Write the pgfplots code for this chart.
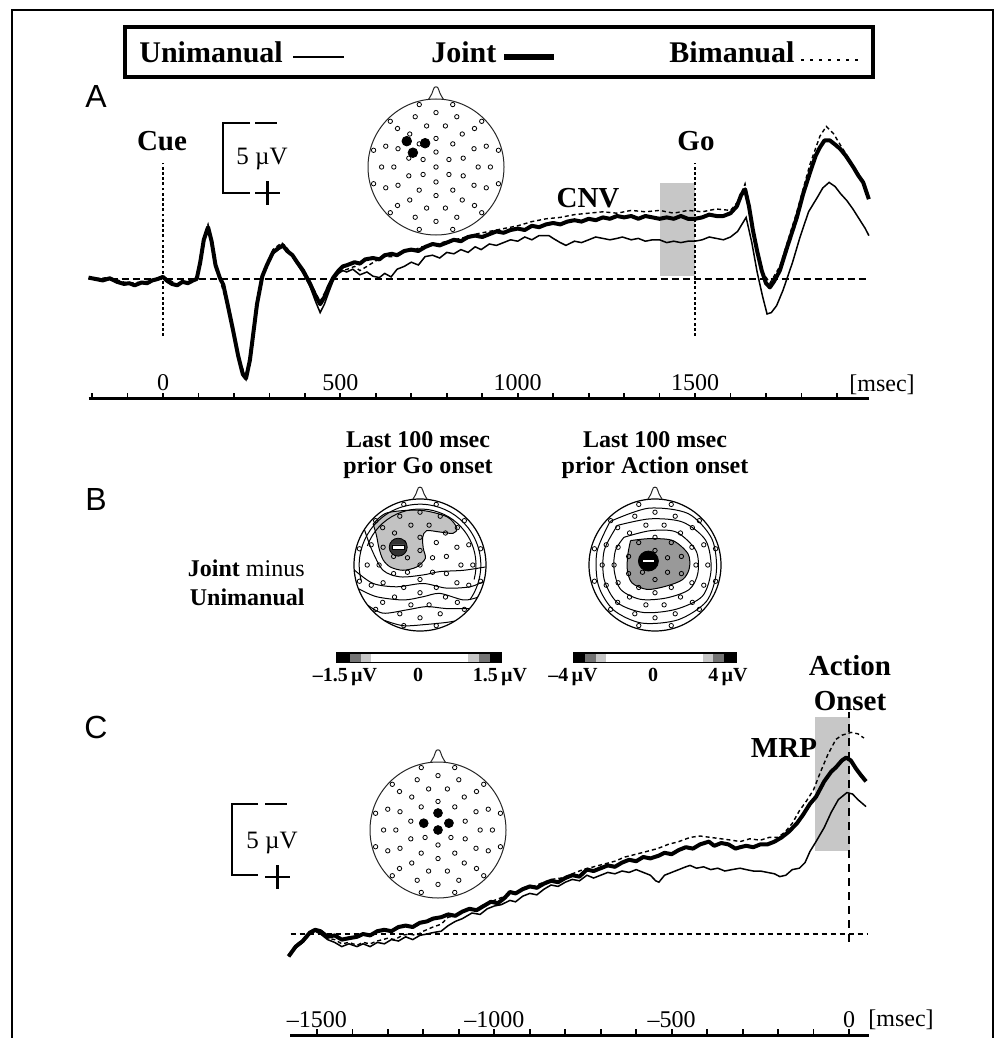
\documentclass[border=0pt]{standalone}
\usepackage{fontspec}
\setmainfont{Liberation Serif}
\newfontfamily\sansf{Liberation Sans}
\usepackage{pgfplots}
\usepackage{pgfplotstable}
\pgfplotsset{compat=1.18}

\newcommand{\labf}{\fontsize{14.5}{16}\selectfont\bfseries}
\newcommand{\legf}{\fontsize{15}{17}\selectfont\bfseries}
\newcommand{\ttlf}{\fontsize{12}{14}\selectfont\bfseries}
\newcommand{\regf}{\fontsize{12}{14}\selectfont}
\newcommand{\cbf}{\fontsize{10}{12}\selectfont\bfseries}
\newcommand{\panf}{\sansf\fontsize{16}{18}\selectfont}

% ---------------- Panel A (ms, upward deflection in microvolt; negativity up)
\pgfplotstableread{
t v
-210 0.10
-190 0.00
-170 -0.10
-150 0.05
-130 -0.20
-110 -0.35
-95 -0.30
-80 -0.45
-60 -0.25
-45 -0.30
-30 -0.10
-15 0.00
0 0.15
10 -0.10
25 -0.35
40 -0.45
55 -0.20
70 -0.30
85 -0.10
95 0.00
105 1.20
115 2.80
127 3.70
137 2.70
148 1.00
160 0.10
170 -0.40
182 -1.80
197 -3.60
212 -5.50
225 -6.80
234 -7.10
245 -5.80
255 -3.80
265 -1.80
280 0.20
293 1.00
310 1.90
325 2.20
338 2.40
350 2.00
365 1.70
378 1.20
395 0.60
414 -0.30
430 -1.20
443 -1.80
455 -1.30
468 -0.50
480 0.10
495 0.60
507 0.90
520 1.00
540 1.20
555 1.10
570 1.40
592 1.50
610 1.40
625 1.70
645 1.80
660 1.70
680 2.00
700 2.10
720 2.00
740 2.30
760 2.50
780 2.40
800 2.60
820 2.80
840 2.70
860 3.00
880 3.10
900 3.00
920 3.20
940 3.40
960 3.30
980 3.50
1000 3.60
1020 3.50
1040 3.80
1060 3.70
1080 3.90
1100 4.00
1120 3.90
1140 4.10
1160 4.20
1180 4.10
1200 4.30
1220 4.20
1240 4.40
1260 4.30
1280 4.50
1300 4.40
1320 4.50
1340 4.30
1360 4.50
1380 4.40
1400 4.30
1420 4.40
1440 4.30
1460 4.50
1480 4.30
1500 4.30
1520 4.40
1540 4.60
1560 4.50
1580 4.50
1600 4.70
1618 5.20
1630 6.00
1641 6.40
1652 5.20
1663 3.50
1675 2.00
1688 0.60
1700 -0.30
1711 -0.60
1722 -0.20
1739 0.60
1760 2.30
1787 4.40
1805 6.10
1824 7.60
1840 8.80
1852 9.40
1865 9.90
1880 9.90
1895 9.60
1909 9.30
1925 8.80
1946 8.00
1960 7.40
1974 6.90
1990 5.70
}\jointA

\pgfplotstableread{
t v
-210 0.05
-190 -0.05
-170 -0.15
-150 0.00
-130 -0.25
-110 -0.40
-95 -0.35
-80 -0.50
-60 -0.30
-45 -0.35
-30 -0.15
-15 -0.05
0 0.10
10 -0.15
25 -0.40
40 -0.50
55 -0.25
70 -0.35
85 -0.15
95 -0.05
105 1.10
115 2.70
127 3.50
137 2.60
148 0.90
160 0.00
170 -0.50
182 -1.90
197 -3.70
212 -5.60
225 -6.90
234 -7.20
245 -5.90
255 -3.90
265 -1.90
280 0.10
293 0.90
310 1.80
325 2.10
338 2.30
350 2.00
365 1.60
378 1.10
395 0.40
414 -0.50
430 -1.60
443 -2.40
455 -1.80
468 -0.90
480 -0.10
495 0.40
507 0.60
518 0.50
535 0.70
555 0.30
575 0.50
592 0.20
610 0.10
625 0.40
643 0.15
660 0.70
680 0.90
700 1.20
720 1.00
739 1.60
760 1.70
780 1.50
800 1.90
820 1.80
840 2.10
860 1.90
880 2.30
897 2.10
920 2.50
940 2.40
960 2.60
980 2.80
1000 2.70
1020 3.00
1040 2.80
1060 3.10
1088 3.10
1100 2.90
1120 2.60
1136 2.40
1160 2.70
1180 2.60
1200 2.80
1220 3.00
1240 2.90
1260 2.80
1280 2.90
1295 3.00
1320 2.80
1340 2.90
1360 2.70
1380 2.80
1400 2.80
1420 2.60
1440 2.70
1460 2.60
1480 2.70
1500 2.70
1520 2.80
1540 3.00
1560 2.90
1580 2.80
1600 3.00
1620 3.40
1644 4.40
1660 2.60
1675 0.50
1690 -1.20
1703 -2.50
1715 -2.40
1730 -1.90
1748 -0.80
1775 1.20
1796 3.00
1820 4.80
1844 5.80
1860 6.50
1878 6.90
1895 6.60
1910 6.10
1928 5.60
1945 5.00
1965 4.20
1980 3.60
1990 3.10
}\uniA

\pgfplotstableread{
t v
-210 0.00
-150 0.10
-100 -0.30
-50 -0.20
0 0.20
40 -0.40
95 0.00
105 1.30
115 3.00
127 3.90
137 2.80
148 1.00
160 0.00
182 -1.90
212 -5.60
234 -7.00
255 -3.70
280 0.30
310 2.10
335 2.60
350 2.20
378 1.20
414 -0.20
443 -1.60
468 -0.40
495 0.50
520 0.70
540 0.90
555 0.60
575 0.90
600 1.30
625 1.60
650 1.60
680 2.00
700 2.00
730 2.30
760 2.40
800 2.70
840 2.90
880 3.20
920 3.40
960 3.60
1000 3.80
1040 4.10
1080 4.30
1120 4.40
1160 4.60
1200 4.70
1240 4.80
1280 4.70
1320 4.90
1360 4.80
1400 4.90
1440 4.70
1480 4.90
1520 4.80
1560 5.00
1600 4.90
1620 5.50
1641 6.80
1652 5.50
1663 3.60
1688 0.60
1711 -0.30
1739 0.90
1787 4.80
1824 8.20
1852 10.20
1870 10.90
1890 10.40
1909 9.60
1946 8.10
1974 7.00
1990 5.90
}\bimA

% ---------------- Panel C (ms relative to action onset)
\pgfplotstableread{
t v
-1580 -1.6
-1560 -0.9
-1540 -0.5
-1520 0.1
-1505 0.3
-1490 0.2
-1470 -0.2
-1450 -0.1
-1430 -0.4
-1410 -0.3
-1387 -0.2
-1370 0.0
-1350 -0.1
-1330 0.2
-1310 0.3
-1290 0.2
-1270 0.5
-1250 0.6
-1230 0.5
-1210 0.8
-1190 0.9
-1173 1.1
-1150 1.2
-1130 1.4
-1110 1.3
-1090 1.6
-1070 1.8
-1050 1.7
-1030 2.0
-1010 2.3
-990 2.2
-970 2.6
-956 3.0
-940 2.9
-920 3.2
-900 3.4
-880 3.3
-860 3.6
-840 3.8
-820 3.7
-800 4.0
-780 4.2
-760 4.1
-739 4.6
-720 4.5
-700 4.7
-680 4.9
-660 4.8
-640 5.1
-620 5.3
-600 5.2
-580 5.5
-560 5.4
-536 5.6
-520 5.8
-500 5.7
-480 6.0
-460 6.2
-440 6.1
-420 6.4
-395 6.6
-380 6.3
-360 6.5
-340 6.4
-320 6.1
-307 6.2
-290 6.3
-270 6.2
-250 6.4
-230 6.4
-210 6.6
-190 6.9
-170 7.3
-147 7.9
-130 8.5
-110 9.3
-93 9.8
-70 10.9
-50 11.6
-37 11.9
-20 12.4
-8 12.6
5 12.4
20 11.8
35 11.3
48 10.9
}\jointC

\pgfplotstableread{
t v
-1580 -1.6
-1560 -1.0
-1540 -0.6
-1520 0.0
-1505 0.2
-1490 0.0
-1470 -0.4
-1450 -0.6
-1430 -0.9
-1410 -0.7
-1387 -0.9
-1370 -0.7
-1350 -0.9
-1330 -0.6
-1310 -0.7
-1290 -0.4
-1270 -0.5
-1250 -0.2
-1230 -0.4
-1210 -0.1
-1190 0.0
-1173 0.1
-1150 0.2
-1130 0.6
-1110 0.9
-1090 1.1
-1063 1.5
-1040 1.4
-1020 1.8
-1000 2.0
-980 2.1
-956 2.4
-940 2.3
-920 2.7
-900 2.9
-880 2.8
-860 3.2
-840 3.5
-820 3.4
-800 3.7
-780 3.9
-760 3.8
-739 4.2
-720 4.0
-700 4.2
-680 4.4
-660 4.3
-640 4.5
-620 4.4
-600 4.6
-580 4.4
-560 4.2
-545 3.8
-536 3.7
-520 4.2
-500 4.4
-480 4.6
-460 4.8
-448 4.9
-430 4.7
-410 4.8
-390 4.6
-370 4.7
-350 4.5
-330 4.6
-307 4.7
-290 4.6
-270 4.5
-250 4.5
-230 4.4
-210 4.3
-195 4.1
-178 4.2
-160 4.6
-140 4.7
-124 5.1
-110 5.9
-93 6.6
-70 7.6
-50 8.7
-30 9.6
-6 10.1
10 10.0
25 9.6
48 9.1
}\uniC

\pgfplotstableread{
t v
-1580 -1.5
-1560 -0.8
-1540 -0.4
-1520 0.1
-1505 0.3
-1490 0.1
-1470 -0.3
-1450 -0.4
-1430 -0.7
-1410 -0.6
-1387 -0.8
-1370 -0.6
-1350 -0.7
-1330 -0.5
-1300 -0.3
-1280 -0.4
-1260 -0.1
-1240 0.0
-1220 -0.1
-1200 0.2
-1173 0.5
-1150 0.7
-1130 1.2
-1110 1.3
-1090 1.6
-1070 1.8
-1050 1.8
-1030 2.1
-1000 2.4
-980 2.6
-956 2.8
-930 3.1
-900 3.3
-870 3.6
-840 3.9
-810 4.0
-780 4.3
-750 4.6
-720 4.8
-690 5.0
-660 5.2
-632 5.5
-600 5.7
-570 5.9
-540 6.1
-510 6.4
-480 6.6
-448 6.9
-420 7.0
-390 6.9
-360 6.8
-330 6.7
-307 6.6
-280 6.8
-250 6.7
-225 6.9
-200 6.9
-180 7.3
-160 7.9
-140 8.8
-120 9.5
-100 10.3
-80 11.6
-60 12.8
-37 13.9
-20 14.2
6 14.4
25 14.3
42 14.0
}\bimC

% ---------------- electrode layout (unit head radius)
\pgfplotstableread{
x y
0 0
0 0.22
-0.19 0.11
-0.19 -0.11
0 -0.22
0.19 -0.11
0.19 0.11
0 0.42
-0.247 0.34
-0.40 0.13
-0.40 -0.13
-0.247 -0.34
0 -0.42
0.247 -0.34
0.40 -0.13
0.40 0.13
0.247 0.34
-0.138 0.604
-0.386 0.485
-0.559 0.269
-0.62 0
-0.559 -0.269
-0.386 -0.485
-0.138 -0.604
0.138 -0.604
0.386 -0.485
0.559 -0.269
0.62 0
0.559 0.269
0.386 0.485
0.138 0.604
0 0.8
-0.306 0.739
-0.566 0.566
-0.739 0.306
-0.8 0
-0.739 -0.306
-0.566 -0.566
-0.306 -0.739
0 -0.8
0.306 -0.739
0.566 -0.566
0.739 -0.306
0.8 0
0.739 0.306
0.566 0.566
0.306 0.739
-0.246 0.918
-0.672 0.672
-0.918 0.246
-0.918 -0.246
-0.672 -0.672
-0.246 -0.918
0.246 -0.918
0.672 -0.672
0.918 -0.246
0.918 0.246
0.672 0.672
0.246 0.918
}\electrodes

\pgfplotsset{
  uni/.style={black, line width=0.75pt, no marks},
  joint/.style={black, line width=2pt, no marks, line join=round},
  bim/.style={black, line width=0.7pt, no marks, dash pattern=on 2pt off 1.5pt},
  wave/.style={axis x line*=bottom, axis y line=none, x=0.17735pt, y=7pt,
    anchor=origin, clip=false, tick align=inside,
    major tick length=3pt, minor tick length=3pt,
    tick style={black, line width=0.9pt},
    x axis line style={line width=1.5pt},
    xticklabel style={font=\regf, anchor=base, yshift=4pt, inner sep=0pt},
    ytick=\empty},
  head/.style={hide axis, x=#1, y=#1, xmin=-1.2, xmax=1.2, ymin=-1.2, ymax=1.3,
    anchor=origin, clip=false, clip marker paths=true},
  elec/.style={only marks, mark=o, mark size=1.1pt, mark options={line width=0.4pt, black}},
  cont/.style={black, line width=0.5pt, smooth, no marks},
  nose/.style={black!85, line width=0.5pt, smooth, no marks},
}

\begin{document}
\begin{tikzpicture}
\path[use as bounding box] (0pt,0pt) rectangle (501.5pt,-519pt);

% ---------- Panel A waveforms
\begin{axis}[wave, at={(81.5pt,-139.5pt)},
  xmin=-210, xmax=1990, ymin=-8.571, ymax=11.5,
  xtick={0,500,1000,1500}, xticklabels={0,500,1000,1500},
  minor xtick={-200,-100,100,200,300,400,600,700,800,900,1100,1200,1300,1400,1600,1700,1800,1900}]
\addplot[draw=none, fill=black!22] coordinates {(1400,0.21) (1500,0.21) (1500,6.86) (1400,6.86)};
\addplot[black, line width=0.8pt, dash pattern=on 3.5pt off 2pt] coordinates {(-210,0) (1990,0)};
\addplot[black, line width=0.8pt, dash pattern=on 1.4pt off 1.2pt] coordinates {(0,-4.07) (0,8.29)};
\addplot[black, line width=0.8pt, dash pattern=on 1.4pt off 1.2pt] coordinates {(1500,-4.07) (1500,8.29)};
\addplot[bim] table {\bimA};
\addplot[uni] table {\uniA};
\addplot[joint] table {\jointA};
\end{axis}

% ---------- Panel C waveforms
\begin{axis}[wave, at={(424.5pt,-467pt)},
  xmin=-1575, xmax=57, ymin=-7.214, ymax=16,
  xtick={-1500,-1000,-500,0}, xticklabels={{–1500},{–1000},{–500},0},
  minor xtick={-1400,-1300,-1200,-1100,-900,-800,-700,-600,-400,-300,-200,-100}]
\addplot[draw=none, fill=black!22] coordinates {(-95,5.93) (3,5.93) (3,15.5) (-95,15.5)};
\addplot[black, line width=0.8pt, dash pattern=on 2.5pt off 2pt] coordinates {(-1574,0) (54,0)};
\addplot[black, line width=1.3pt, dash pattern=on 4pt off 3pt] coordinates {(0,-0.57) (0,15.86)};
\addplot[bim] table {\bimC};
\addplot[uni] table {\uniC};
\addplot[joint] table {\jointC};
\end{axis}

% ---------- Head A (electrode montage)
\begin{axis}[head=34pt, at={(218pt,-83.5pt)}]
\draw[black!85, line width=0.5pt] (axis cs:0,0) circle[radius=34pt];
\addplot[nose] coordinates {(-0.11,0.994) (-0.06,1.08) (-0.025,1.17) (0.025,1.17) (0.06,1.08) (0.11,0.994)};
\addplot[elec] table {\electrodes};
\addplot[only marks, mark=*, mark size=2.4pt, black] coordinates {(-0.43,0.38) (-0.16,0.35) (-0.34,0.21)};
\end{axis}

% ---------- Head C (electrode montage)
\begin{axis}[head=34pt, at={(219pt,-415pt)}]
\draw[black!85, line width=0.5pt] (axis cs:0,0) circle[radius=34pt];
\addplot[nose] coordinates {(-0.11,0.994) (-0.06,1.08) (-0.025,1.17) (0.025,1.17) (0.06,1.08) (0.11,0.994)};
\addplot[elec] table {\electrodes};
\addplot[only marks, mark=*, mark size=2.2pt, black] coordinates {(-0.21,0.10) (0,0.25) (0.16,0.10) (0,0.0)};
\end{axis}

% ---------- Head B left (Go)
\begin{axis}[head=33pt, at={(210pt,-282.5pt)}]
\addplot[fill=black!24, draw=black, line width=0.5pt, smooth] coordinates {
 (-0.71,0.62) (-0.5,0.79) (0,0.83) (0.41,0.73) (0.56,0.56) (0.5,0.48) (0.3,0.5)
 (0.1,0.52) (0.04,0.42) (0.05,0.25) (0.08,0.1) (-0.05,-0.03) (-0.26,-0.08)
 (-0.45,-0.03) (-0.56,0.08) (-0.62,0.25) (-0.66,0.45) (-0.71,0.62)};
\addplot[cont] coordinates {(-0.84,0.53) (-0.73,0.23) (-0.56,-0.08) (-0.30,-0.18) (0.05,-0.15) (0.30,-0.10) (0.66,-0.08) (0.99,-0.03)};
\addplot[cont] coordinates {(-0.99,-0.08) (-0.71,-0.28) (-0.35,-0.33) (0.05,-0.28) (0.40,-0.35) (0.76,-0.33) (0.96,-0.25)};
\addplot[cont] coordinates {(-0.93,-0.36) (-0.66,-0.48) (-0.25,-0.53) (0.05,-0.48) (0.30,-0.43) (0.66,-0.53) (0.87,-0.49)};
\addplot[cont] coordinates {(-0.79,-0.61) (-0.56,-0.73) (-0.2,-0.68) (0.1,-0.63) (0.4,-0.66) (0.74,-0.66)};
\addplot[cont] coordinates {(-0.54,-0.84) (-0.25,-0.92) (0.1,-0.9) (0.4,-0.87) (0.52,-0.85)};
\draw[black, line width=0.5pt] (axis cs:0,0) ++(195:30.4pt) arc[start angle=195, end angle=-35, radius=30.4pt];
\draw[black, line width=0.5pt] (axis cs:0,0) ++(160:28pt) arc[start angle=160, end angle=-15, radius=28pt];
\draw[black, line width=0.6pt] (axis cs:0,0) circle[radius=33pt];
\addplot[nose] coordinates {(-0.11,0.994) (-0.06,1.08) (-0.025,1.17) (0.025,1.17) (0.06,1.08) (0.11,0.994)};
\addplot[elec] table {\electrodes};
\addplot[only marks, mark=*, mark size=4.5pt, mark options={fill=black!80, draw=black}] coordinates {(-0.33,0.27)};
\addplot[fill=white, draw=black, line width=0.3pt] coordinates {(-0.42,0.235) (-0.24,0.235) (-0.24,0.305) (-0.42,0.305) (-0.42,0.235)};
\end{axis}

% ---------- Head B right (Action)
\begin{axis}[head=33pt, at={(327.5pt,-282.5pt)}]
\addplot[fill=black!40, draw=black, line width=0.5pt, smooth] coordinates {
 (-0.37,0.37) (-0.07,0.40) (0.27,0.37) (0.50,0.17) (0.52,-0.05) (0.42,-0.22)
 (0.17,-0.32) (-0.12,-0.37) (-0.35,-0.27) (-0.42,-0.07) (-0.41,0.17) (-0.37,0.37)};
\addplot[cont] coordinates {(-0.47,0.42) (-0.07,0.52) (0.32,0.50) (0.62,0.22) (0.65,-0.12) (0.52,-0.37) (0.17,-0.50) (-0.22,-0.52) (-0.52,-0.37) (-0.62,-0.07) (-0.60,0.22) (-0.47,0.42)};
\addplot[cont] coordinates {(-0.57,0.60) (-0.07,0.70) (0.42,0.65) (0.77,0.37) (0.85,-0.07) (0.72,-0.47) (0.32,-0.67) (-0.17,-0.72) (-0.57,-0.57) (-0.77,-0.22) (-0.77,0.22) (-0.57,0.60)};
\addplot[cont] coordinates {(-0.68,0.66) (-0.1,0.86) (0.5,0.78) (0.86,0.4) (0.93,-0.1) (0.78,-0.55) (0.35,-0.83) (-0.2,-0.88) (-0.63,-0.68) (-0.86,-0.3) (-0.88,0.2) (-0.68,0.66)};
\draw[black, line width=0.6pt] (axis cs:0,0) circle[radius=33pt];
\addplot[nose] coordinates {(-0.11,0.994) (-0.06,1.08) (-0.025,1.17) (0.025,1.17) (0.06,1.08) (0.11,0.994)};
\addplot[elec] table {\electrodes};
\addplot[only marks, mark=*, mark size=5pt, mark options={fill=black, draw=black}] coordinates {(-0.10,0.06)};
\addplot[fill=white, draw=black, line width=0.3pt] coordinates {(-0.195,0.035) (-0.005,0.035) (-0.005,0.085) (-0.195,0.085) (-0.195,0.035)};
\end{axis}

% ---------- page frame, legend and texts (1 unit = 1 reference pixel)
\begin{scope}[x=0.5pt, y=-0.5pt]
\draw[line width=1pt] (12,1038) -- (12,10) -- (993,10) -- (993,1038);
% legend
\draw[line width=2pt] (125,27) rectangle (873,77);
\node[anchor=base west, inner sep=0pt, font=\legf] at (139,63) {Unimanual};
\draw[line width=1pt] (293,57) -- (344,57);
\node[anchor=base west, inner sep=0pt, font=\legf] at (431,63) {Joint};
\draw[line width=3pt] (504,57) -- (554,57);
\node[anchor=base west, inner sep=0pt, font=\legf] at (669,63) {Bimanual};
\draw[line width=1pt, dash pattern=on 1.5pt off 3pt] (801,60) -- (860,60);
% panel letters
\node[anchor=base, inner sep=0pt, font=\panf] at (96,108) {A};
\node[anchor=base, inner sep=0pt, font=\panf] at (96,510) {B};
\node[anchor=base, inner sep=0pt, font=\panf] at (96,738) {C};
% panel A labels
\node[anchor=base, inner sep=0pt, font=\labf] at (162,150) {Cue};
\node[anchor=base, inner sep=0pt, font=\labf] at (696,150) {Go};
\node[anchor=base, inner sep=0pt, font=\labf] at (588,207) {CNV};
\node[anchor=base west, inner sep=0pt, font=\regf] at (849,391) {[msec]};
% scale bar A
\draw[line width=1.3pt] (250,123) -- (223,123) -- (223,193) -- (250,193);
\draw[line width=1.2pt] (255,123) -- (277,123);
\draw[line width=1.2pt] (255,193) -- (280,193) (267.5,181) -- (267.5,205);
\node[anchor=base, inner sep=0pt, font=\fontsize{12.5}{14}\selectfont] at (262,164) {5 µV};
% panel B texts
\node[anchor=base, inner sep=0pt, font=\ttlf] at (418,447) {Last 100 msec};
\node[anchor=base, inner sep=0pt, font=\ttlf] at (418,473) {prior Go onset};
\node[anchor=base, inner sep=0pt, font=\ttlf] at (655,447) {Last 100 msec};
\node[anchor=base, inner sep=0pt, font=\ttlf] at (655,473) {prior Action onset};
\node[anchor=base east, inner sep=0pt, font=\regf] at (305,576) {\textbf{Joint} minus};
\node[anchor=base east, inner sep=0pt, font=\regf] at (305,605) {\textbf{Unimanual}};
% colour bars
\fill[black] (336,652) rectangle (502,663);
\fill[black!55] (350,653.5) rectangle (361,661.5);
\fill[black!22] (361,653.5) rectangle (371,661.5);
\fill[white] (371,653.5) rectangle (468,661.5);
\fill[black!22] (468,653.5) rectangle (479,661.5);
\fill[black!55] (479,653.5) rectangle (490,661.5);
\fill[black] (573,652) rectangle (737,663);
\fill[black!55] (585,653.5) rectangle (596,661.5);
\fill[black!22] (596,653.5) rectangle (606,661.5);
\fill[white] (606,653.5) rectangle (703,661.5);
\fill[black!22] (703,653.5) rectangle (713,661.5);
\fill[black!55] (713,653.5) rectangle (724,661.5);
\node[anchor=base, inner sep=0pt, font=\cbf] at (345,681) {–1.5\,µV};
\node[anchor=base, inner sep=0pt, font=\cbf] at (418,681) {0};
\node[anchor=base, inner sep=0pt, font=\cbf] at (500,681) {1.5\,µV};
\node[anchor=base, inner sep=0pt, font=\cbf] at (573,681) {–4\,µV};
\node[anchor=base, inner sep=0pt, font=\cbf] at (653,681) {0};
\node[anchor=base, inner sep=0pt, font=\cbf] at (728,681) {4\,µV};
% panel C labels
\node[anchor=base, inner sep=0pt, font=\labf] at (850,675) {Action};
\node[anchor=base, inner sep=0pt, font=\labf] at (850,710) {Onset};
\node[anchor=base, inner sep=0pt, font=\labf] at (784,757) {MRP};
\node[anchor=base west, inner sep=0pt, font=\regf] at (868,1026) {[msec]};
% scale bar C
\draw[line width=1.3pt] (258,804) -- (232,804) -- (232,875) -- (258,875);
\draw[line width=1.2pt] (265,804) -- (287,804);
\draw[line width=1.2pt] (265,877) -- (290,877) (277.5,865) -- (277.5,889);
\node[anchor=base, inner sep=0pt, font=\fontsize{12.5}{14}\selectfont] at (272,848) {5 µV};
\end{scope}
\end{tikzpicture}
\end{document}
